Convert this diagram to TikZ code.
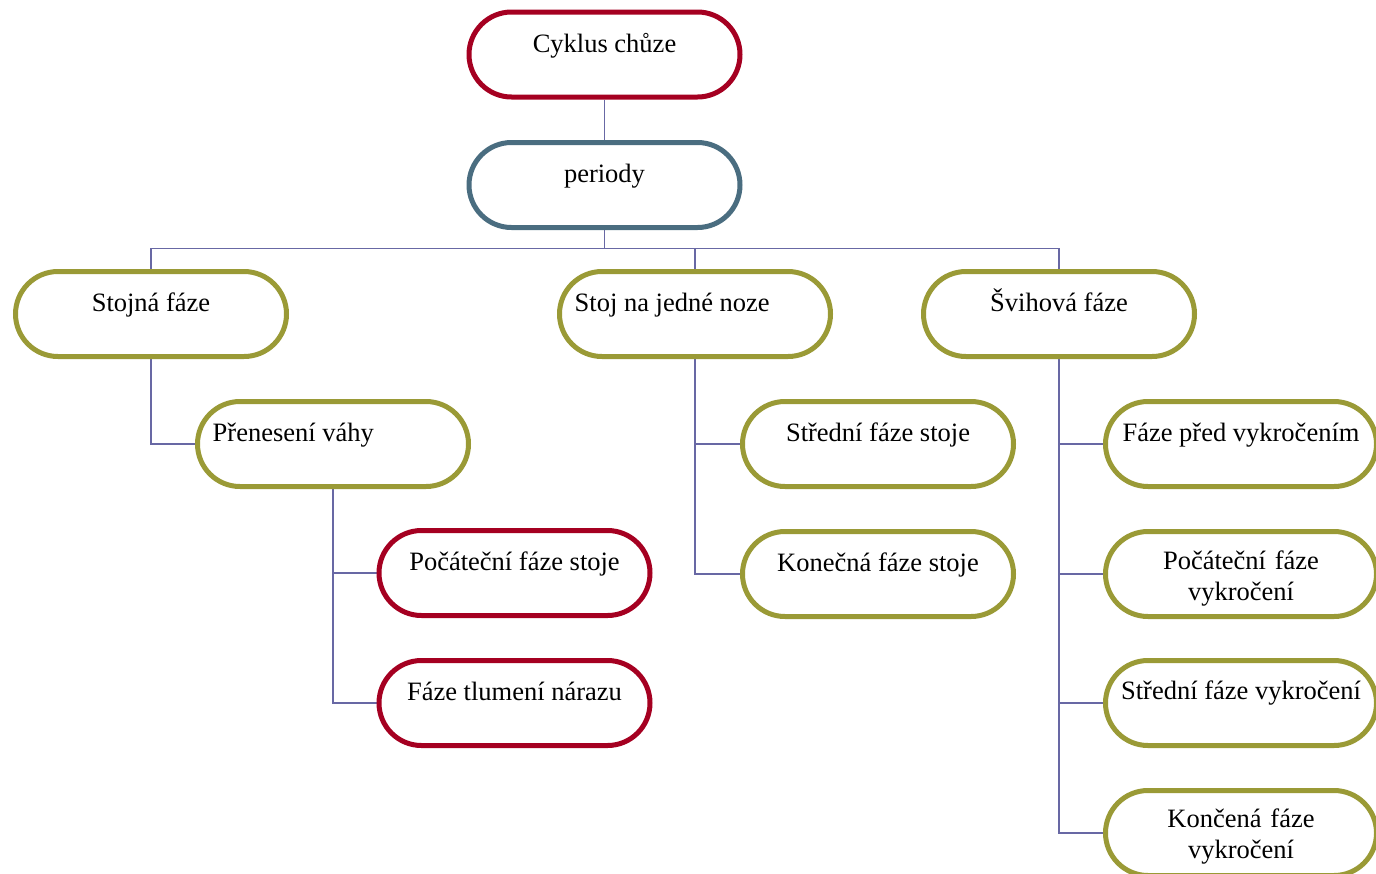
\documentclass[tikz,border=0pt]{standalone}
\usepackage{fontspec}
\setmainfont{Liberation Serif}
\usetikzlibrary{backgrounds}
\definecolor{cred}{RGB}{165,0,33}
\definecolor{cblue}{RGB}{74,109,128}
\definecolor{colive}{RGB}{154,154,54}
\definecolor{cline}{RGB}{104,104,164}
\tikzset{
  box/.style={draw, fill=white, rectangle, rounded corners=42.5pt, minimum width=271pt, minimum height=85pt, line width=5pt, inner sep=0pt},
  redbox/.style={box, draw=cred},
  bluebox/.style={box, draw=cblue},
  olivebox/.style={box, draw=colive},
  txt/.style={font=\fontsize{26.5}{31}\selectfont, inner sep=0pt, text=black},
  txt2/.style={txt, text width=270pt, align=center},
  conn/.style={draw=cline, line width=1.5pt},
}
\begin{document}
\begin{tikzpicture}[x=1pt, y=-1pt]
\useasboundingbox (0,0) rectangle (1376,873);
\clip (0,0) rectangle (1376,873);
% boxes
\node[redbox] (cyklus) at (604.5,54.5) {};
\node[bluebox] (periody) at (604.5,185) {};
\node[olivebox] (stojna) at (151,314) {};
\node[olivebox] (stoj) at (695,314) {};
\node[olivebox] (svih) at (1059,314) {};
\node[olivebox] (prenes) at (333,444) {};
\node[redbox] (pocst) at (514.5,573) {};
\node[redbox] (tlum) at (514.5,703) {};
\node[olivebox] (stred) at (878,444) {};
\node[olivebox] (konec) at (878,574) {};
\node[olivebox] (pred) at (1241,444) {};
\node[olivebox] (pocv) at (1241,574) {};
\node[olivebox] (stredv) at (1241,703) {};
\node[olivebox] (koncv) at (1241,833) {};
% texts
\node[txt, anchor=base] (tcyklus) at ([yshift=2.5pt]cyklus.center) {Cyklus chůze};
\node[txt, anchor=base] (tperiody) at ([yshift=3pt]periody.center) {periody};
\node[txt, anchor=base] (tstojna) at ([yshift=3pt]stojna.center) {Stojná fáze};
\node[txt, anchor=base west] (tstoj) at ([xshift=17.5pt,yshift=3pt]stoj.west) {Stoj na jedné noze};
\node[txt, anchor=base] (tsvih) at ([yshift=3pt]svih.center) {Švihová fáze};
\node[txt, anchor=base west] (tprenes) at ([xshift=17.5pt,yshift=2.5pt]prenes.west) {Přenesení váhy};
\node[txt, anchor=base] (tpocst) at ([yshift=3pt]pocst.center) {Počáteční fáze stoje};
\node[txt, anchor=base] (ttlum) at ([yshift=3pt]tlum.center) {Fáze tlumení nárazu};
\node[txt, anchor=base] (tstred) at ([yshift=3pt]stred.center) {Střední fáze stoje};
\node[txt, anchor=base] (tkonec) at ([yshift=3pt]konec.center) {Konečná fáze stoje};
\node[txt, anchor=base] (tpred) at ([yshift=3pt]pred.center) {Fáze před vykročením};
\node[txt2, anchor=base] (tpocv) at ([yshift=5pt]pocv.center) {Počáteční fáze\\vykročení};
\node[txt, anchor=base] (tstredv) at ([yshift=4pt]stredv.center) {Střední fáze vykročení};
\node[txt2, anchor=base] (tkoncv) at ([yshift=6pt]koncv.center) {Končená fáze\\vykročení};
% connectors
\coordinate (bus) at (604.5,248.5);
\begin{scope}[on background layer]
\draw[conn] (cyklus) -- (periody);
\draw[conn] (periody) -- (bus);
\draw[conn] (bus) -| (stojna);
\draw[conn] (bus) -| (stoj);
\draw[conn] (bus) -| (svih);
\draw[conn] (stojna) |- (prenes);
\draw[conn] (prenes) |- (pocst);
\draw[conn] (prenes) |- (tlum);
\draw[conn] (stoj) |- (stred);
\draw[conn] (stoj) |- (konec);
\draw[conn] (svih) |- (pred);
\draw[conn] (svih) |- (pocv);
\draw[conn] (svih) |- (stredv);
\draw[conn] (svih) |- (koncv);
\end{scope}
\end{tikzpicture}
\end{document}
